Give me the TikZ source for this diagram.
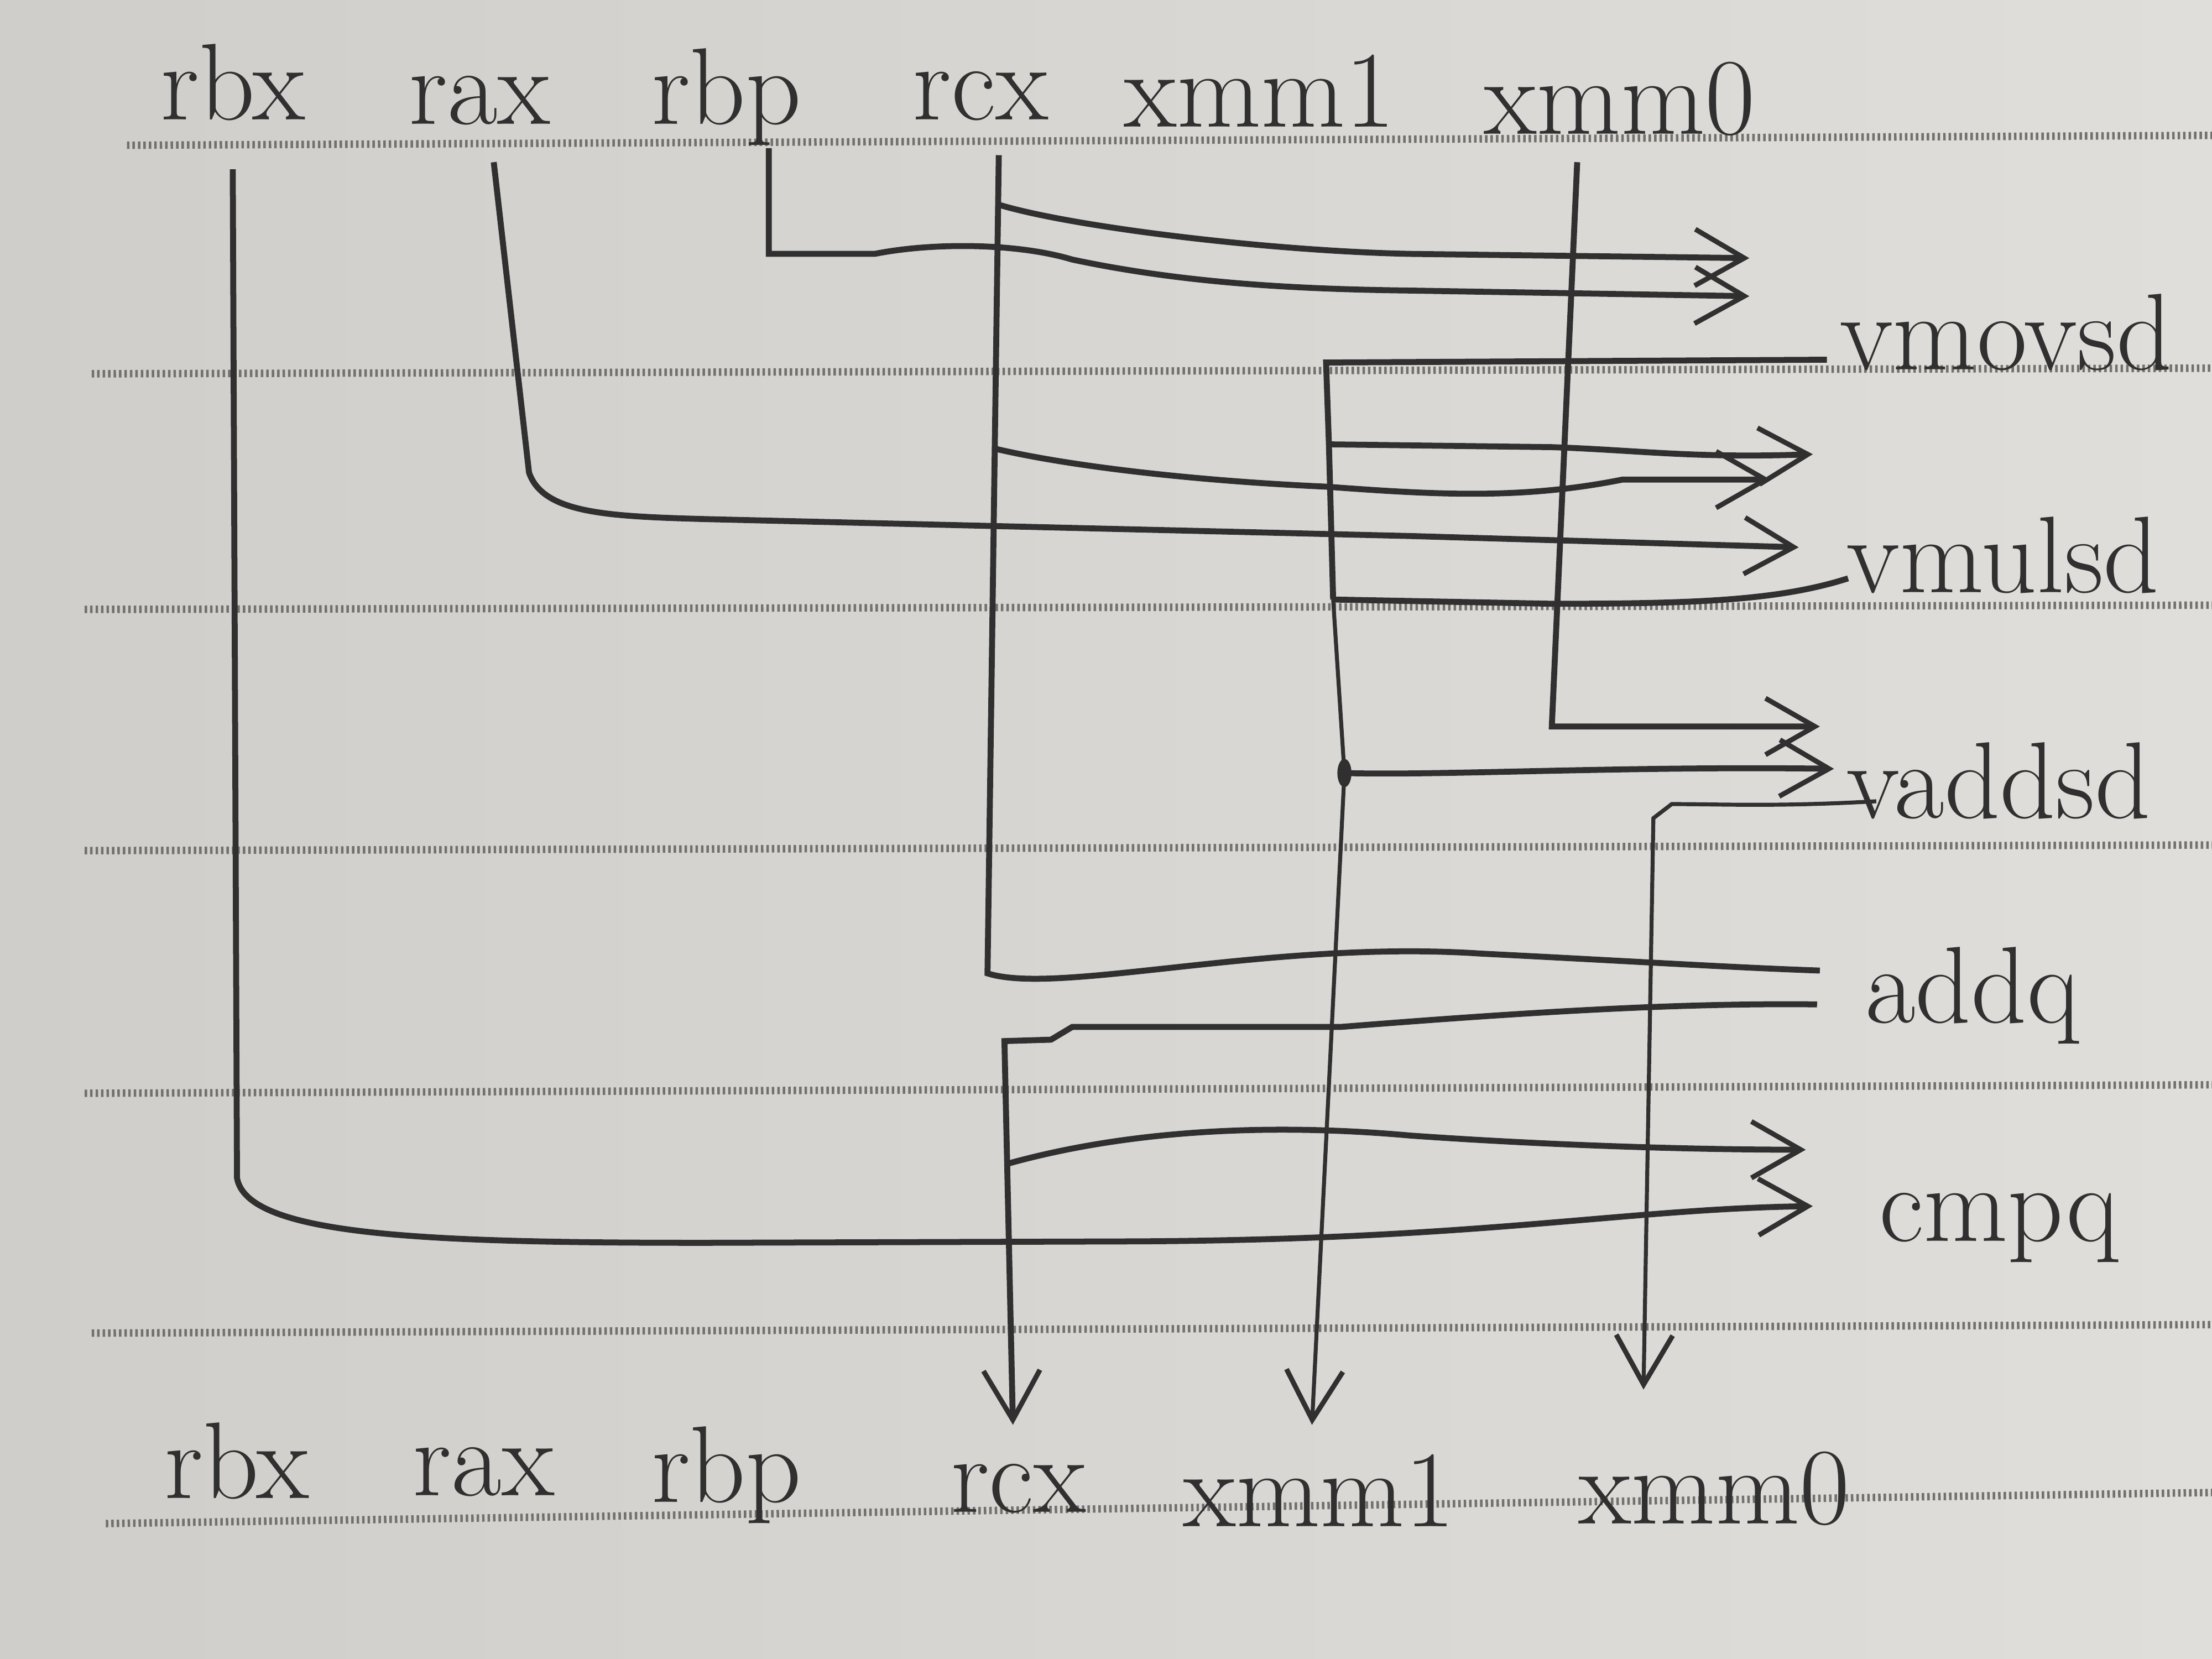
\documentclass[tikz,border=0pt]{standalone}
\usepackage{fontspec}
\usepackage{tikz}
\usetikzlibrary{arrows.meta, positioning}

\definecolor{paperL}{RGB}{208,206,202}
\definecolor{paperR}{RGB}{223,222,219}
\definecolor{ink}{RGB}{48,48,48}
\definecolor{rule}{RGB}{115,113,110}

\begin{document}
\begin{tikzpicture}[x=1cm,y=1cm,
    every node/.style={font=\fontsize{22}{26}\selectfont, text=ink, inner sep=1pt},
    wire/.style={draw=ink, line width=0.8pt},
    flow/.style={draw=ink, line width=1.2pt},
    tip/.style={-{Straight Barb[length=3.5mm,width=4mm,line width=1pt]}},
    ruled/.style={draw=rule, line width=1.5pt, dash pattern=on 0.5pt off 0.6pt}]

    \shade[left color=paperL, right color=paperR] (0,0) rectangle (15.68,11.76);
    \useasboundingbox (0,0) rectangle (15.68,11.76);

    % notebook lines
    \draw[ruled] (0.9,10.73) -- (15.68,10.80);
    \draw[ruled] (0.65,9.11) -- (15.68,9.15);
    \draw[ruled] (0.6,7.44) -- (15.68,7.47);
    \draw[ruled] (0.6,5.73) -- (15.68,5.77);
    \draw[ruled] (0.6,4.01) -- (15.68,4.07);
    \draw[ruled] (0.65,2.31) -- (15.68,2.37);
    \draw[ruled] (0.75,0.96) -- (15.68,1.18);

    % registers, before and after
    \foreach \name/\x/\y in {rbx/1.65/10.91, rax/3.40/10.88, rbp/5.15/10.88,
                             rcx/6.95/10.91, xmm1/8.93/10.86, xmm0/11.48/10.81}
    \node[anchor=base] (t-\name) at (\x,\y) {\name};

    \foreach \name/\x/\y in {rbx/1.68/1.14, rax/3.43/1.16, rbp/5.15/1.11,
                             rcx/7.22/1.04, xmm1/9.35/0.94, xmm0/12.15/0.96}
    \node[anchor=base] (b-\name) at (\x,\y) {\name};

    % instructions
    \node[anchor=base west] (vmovsd) at (13.00,9.14) {vmovsd};
    \node[anchor=base west] (vmulsd) at (13.05,7.56) {vmulsd};
    \node[anchor=base west] (vaddsd) at (13.05,5.96) {vaddsd};
    \node[anchor=base west] (addq)   at (13.18,4.51) {addq};
    \node[anchor=base west] (cmpq)   at (13.28,2.96) {cmpq};

    \coordinate (rbx-in)  at (1.65,10.56);
    \coordinate (rax-in)  at (3.50,10.61);
    \coordinate (rbp-in)  at (5.45,10.71);
    \coordinate (rcx-in)  at (7.08,10.66);
    \coordinate (xmm0-in) at (11.18,10.61);
    \coordinate (rcx-a) at (7.075,10.31);
    \coordinate (rcx-b) at (7.05,8.58);

    % rbx
    \draw[flow, tip] (rbx-in) -- (1.68,3.41)
        .. controls (1.75,3.0) and (3.0,2.95) .. (5.0,2.95)
        -- (8.0,2.96) .. controls (10.5,2.97) and (11.5,3.19) .. ([shift={(-0.43,0.25)}]cmpq.base west);

    % rax
    \draw[flow, tip] (rax-in) -- (3.75,8.41)
        .. controls (3.85,8.12) and (4.3,8.10) .. (5.0,8.08)
        -- (10.0,7.96) -- ([shift={(-0.30,0.32)}]vmulsd.base west);

    % rbp
    \draw[flow, tip] (rbp-in) -- (5.45,9.96) -- (6.2,9.96)
        .. controls (6.6,10.04) and (7.2,10.04) .. (7.6,9.92)
        .. controls (8.4,9.75) and (9.2,9.71) .. (10.0,9.70)
        -- ([shift={(-0.60,0.52)}]vmovsd.base west);

    % rcx
    \draw[flow] (rcx-in) -- (7.0,4.86)
        .. controls (7.5,4.70) and (9.0,5.10) .. (10.5,5.0)
        .. controls (11.5,4.95) and (12.3,4.90) .. ([shift={(-0.28,0.37)}]addq.base west);
    \draw[flow, tip] (rcx-a) .. controls (7.6,10.15) and (9.0,9.98) .. (10.0,9.96)
        -- ([shift={(-0.60,0.79)}]vmovsd.base west);
    \draw[flow, tip] (rcx-b) .. controls (7.6,8.45) and (8.5,8.35) .. (9.4,8.31)
        .. controls (10.2,8.25) and (10.8,8.22) .. (11.5,8.36)
        -- ([shift={(-0.50,0.80)}]vmulsd.base west);

    % vmovsd -> xmm1
    \draw[flow] ([shift={(-0.05,0.07)}]vmovsd.base west) -- (9.40,9.19)
        -- (9.42,8.61) coordinate (x1-b) -- (9.45,7.51) coordinate (x1-c);
    \draw[flow, tip] (x1-b) -- (11.0,8.59) .. controls (11.6,8.57) and (12.0,8.51) .. ([shift={(-0.20,0.98)}]vmulsd.base west);

    % vmulsd -> xmm1
    \draw[flow] ([shift={(0.05,0.10)}]vmulsd.base west)
        .. controls (12.6,7.50) and (12.0,7.48) .. (11.0,7.48) -- (x1-c);
    \draw[wire, tip] (x1-c) -- (9.53,6.28) coordinate (x1-d) -- ([shift={(-0.05,0.72)}]b-xmm1.base);
    \fill[ink] (x1-d) ellipse (0.05 and 0.1);
    \draw[flow, tip] (x1-d) .. controls (10.2,6.26) and (11.5,6.33) .. ([shift={(-0.05,0.35)}]vaddsd.base west);

    % xmm0
    \draw[flow, tip] (xmm0-in) -- (11.0,6.61) -- ([shift={(-0.15,0.65)}]vaddsd.base west);
    \draw[wire, tip] ([shift={(0.25,0.12)}]vaddsd.base west)
        .. controls (12.6,6.04) and (12.2,6.06) .. (11.85,6.06)
        -- (11.72,5.96) -- ([shift={(-0.50,0.95)}]b-xmm0.base);

    % addq -> rcx
    \draw[flow, tip] ([shift={(-0.30,0.13)}]addq.base west)
        .. controls (12.0,4.65) and (11.0,4.60) .. (9.5,4.48)
        -- (7.6,4.48) -- (7.45,4.39) -- (7.12,4.38)
        -- ([shift={(-0.04,0.62)}]b-rcx.base);
    \coordinate (rcx-d) at (7.14,3.51);
    \draw[flow, tip] (rcx-d) .. controls (8.0,3.75) and (9.0,3.80) .. (10.0,3.71)
        .. controls (11.0,3.64) and (12.0,3.61) .. ([shift={(-0.48,0.65)}]cmpq.base west);

\end{tikzpicture}
\end{document}
